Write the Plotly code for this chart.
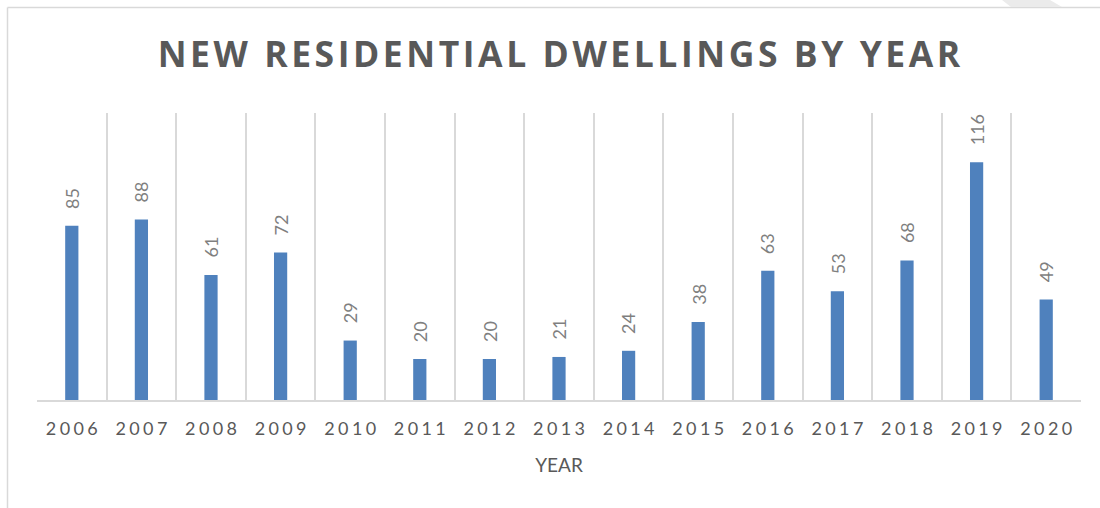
import plotly.graph_objects as go

years = ["2006", "2007", "2008", "2009", "2010", "2011", "2012", "2013",
         "2014", "2015", "2016", "2017", "2018", "2019", "2020"]
dwellings = [85, 88, 61, 72, 29, 20, 20, 21, 24, 38, 63, 53, 68, 116, 49]
title_text = "NEW RESIDENTIAL DWELLINGS BY YEAR"
x_title = "YEAR"

SP = "\u2009\u200a"
HS = "\u200a"
spaced_years = [SP.join(y) for y in years]
spaced_title = HS.join(title_text)

W, H = 1100, 508
L, R, T, B = 37, 19, 113, 108

fig = go.Figure()
fig.add_trace(go.Bar(
    x=years, y=dwellings, width=0.19,
    marker=dict(color="#4f81bd", line=dict(width=0)),
    hoverinfo="x+y",
))

for i, v in enumerate(dwellings):
    fig.add_annotation(
        x=i, y=v, text=str(v), textangle=-90, showarrow=False,
        xanchor="center", yanchor="bottom", yshift=15,
        font=dict(family="Lato", size=18, color="#7f7f7f"),
    )

pw = W - L - R
ph = H - T - B
def px2paper_x(px):
    return (px - L) / pw
def px2paper_y(py):
    return (H - B - py) / ph

# outer chart frame (left and top)
fig.add_shape(type="line", xref="paper", yref="paper",
              x0=px2paper_x(7.5), x1=px2paper_x(7.5),
              y0=px2paper_y(510), y1=px2paper_y(7.5),
              line=dict(color="#d9d9d9", width=1.5))
fig.add_shape(type="line", xref="paper", yref="paper",
              x0=px2paper_x(7.5), x1=px2paper_x(1102),
              y0=px2paper_y(7.5), y1=px2paper_y(7.5),
              line=dict(color="#d9d9d9", width=1.5))
# light diagonal strip top-right
x0, x1, x2, x3 = [px2paper_x(v) for v in (1002, 1050, 1062, 1011)]
yt, yb = px2paper_y(0), px2paper_y(7)
fig.add_shape(type="path", xref="paper", yref="paper",
              path=f"M {x0} {yt} L {x1} {yt} L {x2} {yb} L {x3} {yb} Z",
              fillcolor="#ebebeb", line=dict(width=0))

fig.update_layout(
    width=W, height=H,
    margin=dict(l=L, r=R, t=T, b=B),
    paper_bgcolor="white", plot_bgcolor="white",
    showlegend=False,
    title=dict(text=spaced_title, x=(L + pw / 2) / W, xanchor="center",
               y=1 - 55 / H, yanchor="middle",
               font=dict(family="Open Sans", size=35.5, color="#595959", weight="bold")),
    xaxis=dict(
        type="category", tickson="boundaries", showgrid=True,
        gridcolor="#d9d9d9", gridwidth=1.5,
        tickvals=years, ticktext=spaced_years, ticks="", ticklen=0,
        ticklabelstandoff=12,
        showline=True, linecolor="#d9d9d9", linewidth=1.5,
        range=[-0.5, len(years) - 0.5],
        tickfont=dict(family="Lato", size=18, color="#595959"),
        title=dict(text=x_title, standoff=20,
                   font=dict(family="Lato", size=19, color="#595959")),
    ),
    yaxis=dict(range=[0, 140], showgrid=False, showticklabels=False,
               zeroline=False, showline=False, ticks=""),
)

fig.write_html("out.html", post_script="document.body.style.margin='0';",
               config={"displayModeBar": False})
